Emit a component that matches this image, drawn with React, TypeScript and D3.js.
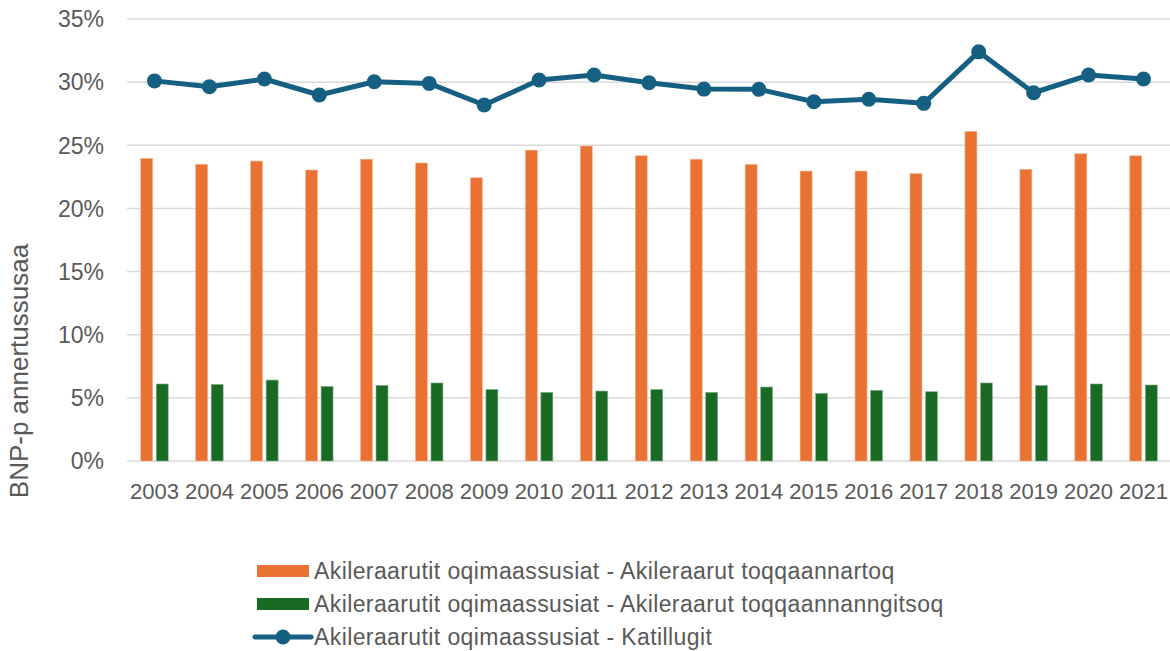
import * as React from 'react';
import * as d3 from 'd3';

// years on the x axis
const years: string[] = [
	'2003', '2004', '2005', '2006', '2007', '2008', '2009', '2010', '2011', '2012',
	'2013', '2014', '2015', '2016', '2017', '2018', '2019', '2020', '2021',
];

// Akileraarut toqqaannartoq (orange bars), % of BNP
const direct: number[] = [
	23.96, 23.5, 23.75, 23.04, 23.9, 23.6, 22.43, 24.62, 24.94, 24.17,
	23.9, 23.49, 22.96, 22.96, 22.75, 26.1, 23.1, 24.33, 24.17,
];

// Akileraarut toqqaannanngitsoq (green bars), % of BNP
const indirect: number[] = [
	6.1, 6.07, 6.41, 5.91, 5.99, 6.18, 5.67, 5.44, 5.54, 5.67,
	5.44, 5.86, 5.36, 5.6, 5.49, 6.18, 5.99, 6.1, 6.02,
];

// Katillugit (line), % of BNP
const total: number[] = [
	30.1, 29.64, 30.25, 28.98, 30.03, 29.9, 28.19, 30.17, 30.56, 29.95,
	29.45, 29.43, 28.45, 28.64, 28.32, 32.4, 29.16, 30.56, 30.25,
];

const yTicks: number[] = [0, 5, 10, 15, 20, 25, 30, 35];

const seriesNames: string[] = [
	'Akileraarutit oqimaassusiat - Akileraarut toqqaannartoq',
	'Akileraarutit oqimaassusiat - Akileraarut toqqaannanngitsoq',
	'Akileraarutit oqimaassusiat - Katillugit',
];

const ORANGE = '#e97132';
const GREEN = '#196b24';
const BLUE = '#156082';
const TEXT = '#595959';
const GRID = '#d9d9d9';
const FONT = '"Liberation Sans", Arial, sans-serif';

const App = () => {
	const width = 1170;
	const height = 651;
	const plot = { left: 127, right: 1171, top: 19, bottom: 461 };

	const x = d3.scaleBand<string>().domain(years).range([plot.left, plot.right]);
	const y = d3.scaleLinear().domain([0, 35]).range([plot.bottom, plot.top]);

	const barW = 12;
	const gap = 3.5;

	const line = d3
		.line<number>()
		.x((_, i) => (x(years[i]) as number) + x.bandwidth() / 2)
		.y((d) => y(d));

	const legendX = 257;
	const legendRows = [571, 604, 637];

	return (
		<svg
			width={width}
			height={height}
			style={{ position: 'absolute', left: 0, top: 0, background: '#fff' }}
			fontFamily={FONT}
		>
			{/* gridlines */}
			{yTicks.map((t) => (
				<line key={'g' + t} x1={plot.left} x2={plot.right} y1={y(t)} y2={y(t)} stroke={GRID} strokeWidth={1.5} />
			))}
			{/* y tick labels */}
			{yTicks.map((t) => (
				<text key={'t' + t} x={104} y={y(t)} dy="0.36em" textAnchor="end" fontSize={23} fill={TEXT}>
					{t + '%'}
				</text>
			))}
			{/* y axis title */}
			<text transform="translate(28,371) rotate(-90)" textAnchor="middle" fontSize={26} fill={TEXT}>
				BNP-p annertussusaa
			</text>
			{/* bars */}
			{years.map((yr, i) => {
				const cx = (x(yr) as number) + x.bandwidth() / 2;
				return (
					<g key={'b' + yr}>
						<rect
							x={cx - gap / 2 - barW}
							y={y(direct[i])}
							width={barW}
							height={y(0) - y(direct[i])}
							fill={ORANGE}
							stroke="#f6b896"
							strokeWidth={0.6}
						/>
						<rect
							x={cx + gap / 2}
							y={y(indirect[i])}
							width={barW}
							height={y(0) - y(indirect[i])}
							fill={GREEN}
							stroke="#8cb592"
							strokeWidth={0.6}
						/>
					</g>
				);
			})}
			{/* line */}
			<path d={line(total) as string} fill="none" stroke={BLUE} strokeWidth={5} strokeLinejoin="round" />
			{total.map((v, i) => (
				<circle key={'c' + i} cx={(x(years[i]) as number) + x.bandwidth() / 2} cy={y(v)} r={7.5} fill={BLUE} />
			))}
			{/* x labels */}
			{years.map((yr) => (
				<text key={'x' + yr} x={(x(yr) as number) + x.bandwidth() / 2} y={499} textAnchor="middle" fontSize={22} fill={TEXT}>
					{yr}
				</text>
			))}
			{/* legend */}
			<rect x={legendX} y={legendRows[0] - 6} width={52} height={12} fill={ORANGE} />
			<rect x={legendX} y={legendRows[1] - 6} width={52} height={12} fill={GREEN} />
			<line x1={legendX - 2} x2={legendX + 54} y1={legendRows[2]} y2={legendRows[2]} stroke={BLUE} strokeWidth={5} strokeLinecap="round" />
			<circle cx={legendX + 26} cy={legendRows[2]} r={7.5} fill={BLUE} />
			{seriesNames.map((name, i) => (
				<text key={'l' + i} x={314} y={legendRows[i]} dy="0.36em" fontSize={23} letterSpacing={0.4} fill={TEXT}>
					{name}
				</text>
			))}
		</svg>
	);
};

export default App;
